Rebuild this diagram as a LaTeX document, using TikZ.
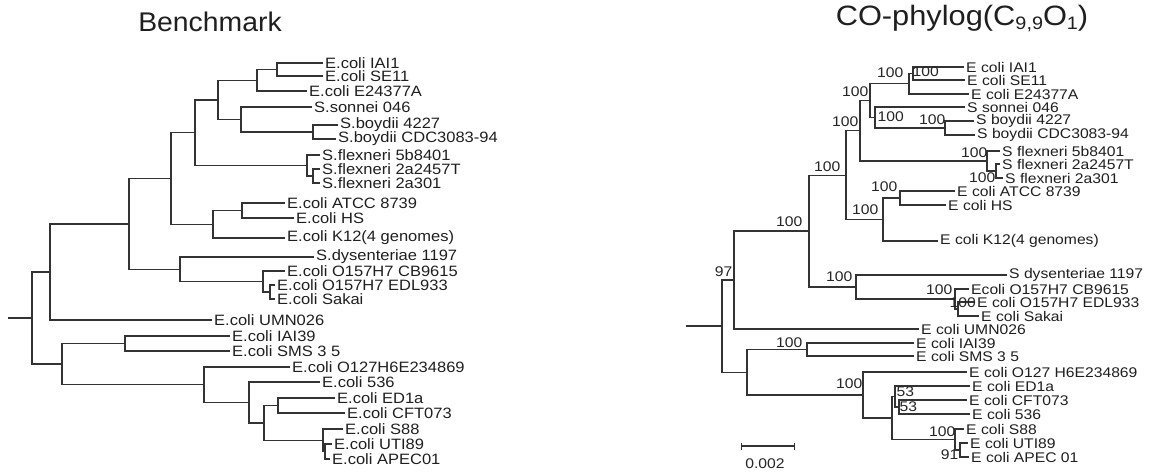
\documentclass[tikz,border=0pt]{standalone}
\usepackage{fontspec}
\setmainfont{Liberation Sans}
\newfontfamily\leftfont{Liberation Sans}[FakeStretch=1.1]
\newfontfamily\rightfont{Liberation Sans}[FakeStretch=1.12]
\newfontfamily\benchfont{Liberation Sans}[FakeStretch=1.05]
\newfontfamily\cofont{Liberation Sans}[FakeStretch=1.1]
\newcommand\lowidx[1]{\raisebox{-0.25ex}{\fontsize{18}{18}\selectfont #1}}
\usetikzlibrary{arrows.meta}

\begin{document}
\begin{tikzpicture}[
    x=1pt, y=-1pt,
    br/.style={draw=black!80, line width=1.3pt},
    lleaf/.style={anchor=west, inner xsep=2pt, inner ysep=0pt, text=black!88,
                  font=\leftfont\fontsize{15}{15}\selectfont},
    rleaf/.style={anchor=west, inner xsep=2pt, inner ysep=0pt, text=black!88,
                  font=\rightfont\fontsize{14}{14}\selectfont},
    boot/.style={anchor=east, inner sep=0.5pt, text=black!85,
                 font=\rightfont\fontsize{14}{14}\selectfont},
    ttl/.style={anchor=base, inner sep=0pt, text=black!88},
  ]
  \useasboundingbox (0,0) rectangle (1151,473);
  \fill[white] (0,0) rectangle (1151,473);

  % titles
  \node[ttl, font=\benchfont\fontsize{27}{30}\selectfont] (tbench) at (210,32) {Benchmark};
  \node[ttl, font=\cofont\fontsize{28}{30}\selectfont] (tco) at (962,26)
       {CO-phylog(C\lowidx{9,9}O\lowidx{1})};

  % benchmark tree, leaves (line ends at the west side of each label)
  \node[lleaf] (biai1)  at (323,63)  {E.coli IAI1};
  \node[lleaf] (bse11)  at (323,76)  {E.coli SE11};
  \node[lleaf] (be24)   at (307,91)  {E.coli E24377A};
  \node[lleaf] (bson)   at (312,107) {S.sonnei 046};
  \node[lleaf] (bboy1)  at (338,125) {S.boydii 4227};
  \node[lleaf] (bboy2)  at (336,139) {S.boydii CDC3083-94};
  \node[lleaf] (bflx1)  at (320,155) {S.flexneri 5b8401};
  \node[lleaf] (bflx2)  at (320,169) {S.flexneri 2a2457T};
  \node[lleaf] (bflx3)  at (320,183) {S.flexneri 2a301};
  \node[lleaf] (batcc)  at (285,203) {E.coli ATCC 8739};
  \node[lleaf] (bhs)    at (294,218) {E.coli HS};
  \node[lleaf] (bk12)   at (285,238) {E.coli K12(4 genomes)};
  \node[lleaf] (bdys)   at (314,257) {S.dysenteriae 1197};
  \node[lleaf] (bcb)    at (285,271) {E.coli O157H7 CB9615};
  \node[lleaf] (bedl)   at (275,285) {E.coli O157H7 EDL933};
  \node[lleaf] (bsak)   at (275,299) {E.coli Sakai};
  \node[lleaf] (bumn)   at (212,320) {E.coli UMN026};
  \node[lleaf] (biai39) at (230,336) {E.coli IAI39};
  \node[lleaf] (bsms)   at (230,351) {E.coli SMS 3 5};
  \node[lleaf] (bo127)  at (290,367) {E.coli O127H6E234869};
  \node[lleaf] (b536)   at (320,382) {E.coli 536};
  \node[lleaf] (bed1a)  at (335,398) {E.coli ED1a};
  \node[lleaf] (bcft)   at (345,413) {E.coli CFT073};
  \node[lleaf] (bs88)   at (343,429) {E.coli S88};
  \node[lleaf] (buti)   at (332,444) {E.coli UTI89};
  \node[lleaf] (bapec)  at (330,459) {E.coli APEC01};

  % benchmark tree, inner nodes (y = middle of the two children)
  \coordinate (bn1)  at (277,69.5);
  \coordinate (bn2)  at (257,80.3);
  \coordinate (bn3)  at (313,132);
  \coordinate (bn4)  at (241,119.5);
  \coordinate (bn5)  at (218,99.9);
  \coordinate (bn6)  at (313,176);
  \coordinate (bn7)  at (307,165.5);
  \coordinate (bn8)  at (195,132.7);
  \coordinate (bn9)  at (242,210.5);
  \coordinate (bn10) at (213,224.3);
  \coordinate (bn11) at (171,178.5);
  \coordinate (bn12) at (270,292);
  \coordinate (bn13) at (263,281.5);
  \coordinate (bn14) at (180,269.3);
  \coordinate (bn15) at (129,223.9);
  \coordinate (bn16) at (50,272);
  \coordinate (bn17) at (125,343.5);
  \coordinate (bn18) at (278,405.5);
  \coordinate (bn19) at (325,451.5);
  \coordinate (bn20) at (323,440.3);
  \coordinate (bn21) at (264,422.9);
  \coordinate (bn22) at (249,402.4);
  \coordinate (bn23) at (204,384.7);
  \coordinate (bn24) at (62,364.1);
  \coordinate (bn25) at (32,318);
  \coordinate (broot) at (8,318);

  \draw[br] (biai1) -| (bn1) |- (bse11);
  \draw[br] (bn1) -| (bn2) |- (be24);
  \draw[br] (bboy1) -| (bn3) |- (bboy2);
  \draw[br] (bson) -| (bn4) |- (bn3);
  \draw[br] (bn2) -| (bn5) |- (bn4);
  \draw[br] (bflx2) -| (bn6) |- (bflx3);
  \draw[br] (bflx1) -| (bn7) |- (bn6);
  \draw[br] (bn5) -| (bn8) |- (bn7);
  \draw[br] (batcc) -| (bn9) |- (bhs);
  \draw[br] (bn9) -| (bn10) |- (bk12);
  \draw[br] (bn8) -| (bn11) |- (bn10);
  \draw[br] (bedl) -| (bn12) |- (bsak);
  \draw[br] (bcb) -| (bn13) |- (bn12);
  \draw[br] (bdys) -| (bn14) |- (bn13);
  \draw[br] (bn11) -| (bn15) |- (bn14);
  \draw[br] (bn15) -| (bn16) |- (bumn);
  \draw[br] (biai39) -| (bn17) |- (bsms);
  \draw[br] (bed1a) -| (bn18) |- (bcft);
  \draw[br] (buti) -| (bn19) |- (bapec);
  \draw[br] (bs88) -| (bn20) |- (bn19);
  \draw[br] (bn18) -| (bn21) |- (bn20);
  \draw[br] (b536) -| (bn22) |- (bn21);
  \draw[br] (bo127) -| (bn23) |- (bn22);
  \draw[br] (bn17) -| (bn24) |- (bn23);
  \draw[br] (bn16) -| (bn25) |- (bn24);
  \draw[br] (broot) -- (bn25);

  % co-phylog tree, leaves
  \node[rleaf] (ciai1)  at (964,67)  {E coli IAI1};
  \node[rleaf] (cse11)  at (965,80)  {E coli SE11};
  \node[rleaf] (ce24)   at (969,94)  {E coli E24377A};
  \node[rleaf] (cson)   at (965,107) {S sonnei 046};
  \node[rleaf] (cboy1)  at (974,121) {S boydii 4227};
  \node[rleaf] (cboy2)  at (975,135) {S boydii CDC3083-94};
  \node[rleaf] (cflx1)  at (1000,151) {S flexneri 5b8401};
  \node[rleaf] (cflx2)  at (1000,164) {S flexneri 2a2457T};
  \node[rleaf] (cflx3)  at (1003,178) {S flexneri 2a301};
  \node[rleaf] (catcc)  at (955,191) {E coli ATCC 8739};
  \node[rleaf] (chs)    at (946,205) {E coli HS};
  \node[rleaf] (ck12)   at (938,241) {E coli K12(4 genomes)};
  \node[rleaf] (cdys)   at (1007,275) {S dysenteriae 1197};
  \node[rleaf] (ccb)    at (969,289) {Ecoli O157H7 CB9615};
  \node[rleaf] (cedl)   at (975,302) {E coli O157H7 EDL933};
  \node[rleaf] (csak)   at (979,316) {E coli Sakai};
  \node[rleaf] (cumn)   at (919,329) {E coli UMN026};
  \node[rleaf] (ciai39) at (914,343) {E coli IAI39};
  \node[rleaf] (csms)   at (914,356) {E coli SMS 3 5};
  \node[rleaf] (co127)  at (967,372) {E coli O127 H6E234869};
  \node[rleaf] (ced1a)  at (970,386) {E coli ED1a};
  \node[rleaf] (ccft)   at (967,400) {E coli CFT073};
  \node[rleaf] (c536)   at (970,414) {E coli 536};
  \node[rleaf] (cs88)   at (964,429) {E coli S88};
  \node[rleaf] (cuti)   at (968,443) {E coli UTI89};
  \node[rleaf] (capec)  at (969,457) {E coli APEC 01};

  % co-phylog tree, inner nodes
  \coordinate (cn1)  at (913,73.5);
  \coordinate (cn2)  at (909,83.8);
  \coordinate (cn3)  at (945,128);
  \coordinate (cn4)  at (875,117.5);
  \coordinate (cn5)  at (870,100.6);
  \coordinate (cn6)  at (996,171);
  \coordinate (cn7)  at (987,161);
  \coordinate (cn8)  at (860,130.8);
  \coordinate (cn9)  at (900,198);
  \coordinate (cn10) at (883,219.5);
  \coordinate (cn11) at (846,175.2);
  \coordinate (cn12) at (958,309);
  \coordinate (cn13) at (955,299);
  \coordinate (cn14) at (856,287);
  \coordinate (cn15) at (809,231);
  \coordinate (cn16) at (734,280);
  \coordinate (cn17) at (807,349.5);
  \coordinate (cn18) at (899,407);
  \coordinate (cn19) at (895,396.5);
  \coordinate (cn20) at (960,450);
  \coordinate (cn21) at (955,439.5);
  \coordinate (cn22) at (892,418);
  \coordinate (cn23) at (863,395);
  \coordinate (cn24) at (747,372.3);
  \coordinate (cn25) at (722,326.1);
  \coordinate (croot) at (686,326.1);

  \draw[br] (ciai1) -| (cn1) |- (cse11);
  \draw[br] (cn1) -| (cn2) |- (ce24);
  \draw[br] (cboy1) -| (cn3) |- (cboy2);
  \draw[br] (cson) -| (cn4) |- (cn3);
  \draw[br] (cn2) -| (cn5) |- (cn4);
  \draw[br] (cflx2) -| (cn6) |- (cflx3);
  \draw[br] (cflx1) -| (cn7) |- (cn6);
  \draw[br] (cn5) -| (cn8) |- (cn7);
  \draw[br] (catcc) -| (cn9) |- (chs);
  \draw[br] (cn9) -| (cn10) |- (ck12);
  \draw[br] (cn8) -| (cn11) |- (cn10);
  \draw[br] (cedl) -| (cn12) |- (csak);
  \draw[br] (ccb) -| (cn13) |- (cn12);
  \draw[br] (cdys) -| (cn14) |- (cn13);
  \draw[br] (cn11) -| (cn15) |- (cn14);
  \draw[br] (cn15) -| (cn16) |- (cumn);
  \draw[br] (ciai39) -| (cn17) |- (csms);
  \draw[br] (ccft) -| (cn18) |- (c536);
  \draw[br] (ced1a) -| (cn19) |- (cn18);
  \draw[br] (cuti) -| (cn20) |- (capec);
  \draw[br] (cs88) -| (cn21) |- (cn20);
  \draw[br] (cn19) -| (cn22) |- (cn21);
  \draw[br] (co127) -| (cn23) |- (cn22);
  \draw[br] (cn17) -| (cn24) |- (cn23);
  \draw[br] (cn16) -| (cn25) |- (cn24);
  \draw[br] (croot) -- (cn25);

  % bootstrap values, right-aligned just above the incoming branch
  \node[boot, anchor=west] (k1) at (912,72)  {100};
  \node[boot] (k2)  at (904,73)  {100};
  \node[boot] (k3)  at (946,120) {100};
  \node[boot, anchor=west] (k4) at (877,117) {100};
  \node[boot] (k5)  at (869,92)  {100};
  \node[boot] (k6)  at (988,153) {100};
  \node[boot] (k7)  at (996,178) {100};
  \node[boot] (k8)  at (859,122) {100};
  \node[boot] (k9)  at (898,187) {100};
  \node[boot] (k10) at (879,210) {100};
  \node[boot] (k11) at (841,167) {100};
  \node[boot] (k12) at (953,290) {100};
  \node[boot, anchor=west] (k13) at (949,303) {100};
  \node[boot] (k14) at (853,277) {100};
  \node[boot] (k15) at (803,222) {100};
  \node[boot] (k16) at (733,272) {97};
  \node[boot] (k17) at (803,343) {100};
  \node[boot] (k18) at (863,384) {100};
  \node[boot, anchor=west] (k19) at (896,392) {53};
  \node[boot, anchor=west] (k20) at (899,407) {53};
  \node[boot] (k21) at (956,432) {100};
  \node[boot] (k22) at (959,455) {91};

  % scale bar
  \coordinate (sba) at (741,446);
  \coordinate (sbb) at (795,446);
  \draw[br, {Bar[width=7pt]}-{Bar[width=7pt]}] (sba) -- (sbb);
  \node[boot, anchor=center] (sbl) at (765,464) {0.002};

\end{tikzpicture}
\end{document}
